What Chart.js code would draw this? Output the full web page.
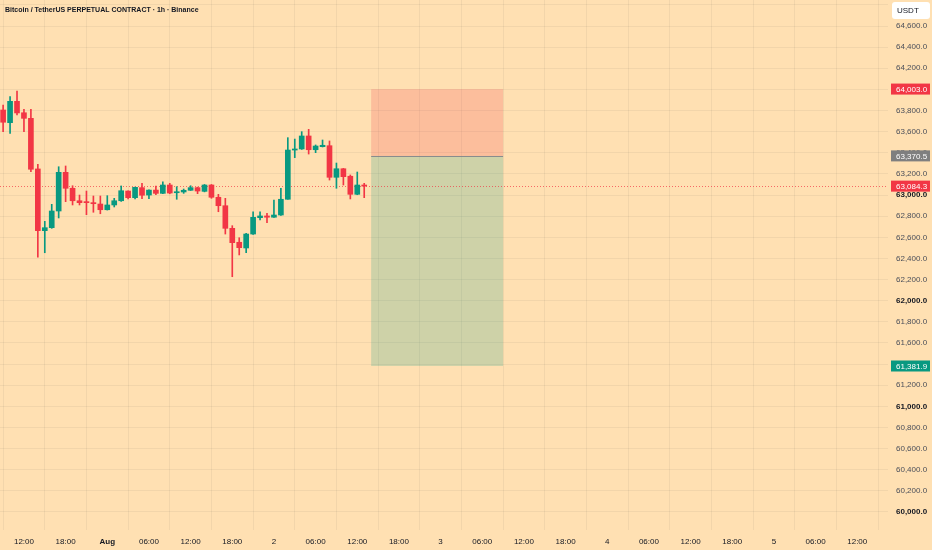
<!DOCTYPE html>
<html>
<head>
<meta charset="utf-8">
<script src="https://cdn.jsdelivr.net/npm/chart.js@4.4.1/dist/chart.umd.min.js"></script>
<style>
  html, body { margin: 0; padding: 0; background: #ffe0b2; }
  canvas { display: block; }
</style>
</head>
<body>
<canvas id="chart" width="932" height="550"></canvas>
<script>
// hours counted from Aug 1 00:00, one candle per hour
const hours = [-15, -14, -13, -12, -11, -10, -9, -8, -7, -6, -5, -4, -3, -2, -1,
  0, 1, 2, 3, 4, 5, 6, 7, 8, 9, 10, 11, 12, 13, 14, 15, 16, 17, 18, 19, 20, 21, 22, 23,
  24, 25, 26, 27, 28, 29, 30, 31, 32, 33, 34, 35, 36, 37];
const opens = [63805, 63685, 63887, 63779, 63726, 63247, 62663, 62691, 62849, 63215, 63064, 62946, 62935, 62928, 62915,
  62861, 62906, 62946, 63038, 62975, 63070, 63000, 63047, 63016, 63095, 63022, 63029, 63045, 63070, 63035, 63095, 62979, 62899, 62685, 62553, 62499, 62631, 62786, 62802,
  62790, 62811, 62960, 63426, 63436, 63559, 63429, 63458, 63467, 63168, 63249, 63178, 63007, 63095];
const highs = [63852, 63931, 63985, 63812, 63812, 63291, 62751, 62912, 63268, 63275, 63088, 63000, 63038, 62991, 62991,
  62994, 62969, 63086, 63041, 63075, 63111, 63050, 63086, 63126, 63111, 63079, 63057, 63088, 63075, 63100, 63100, 63007, 62969, 62710, 62596, 62638, 62842, 62842, 62827,
  62953, 63064, 63543, 63530, 63600, 63622, 63474, 63521, 63512, 63303, 63252, 63190, 63218, 63111];
const lows = [63600, 63584, 63758, 63600, 63221, 62411, 62454, 62685, 62783, 62937, 62906, 62906, 62814, 62837, 62823,
  62858, 62887, 62940, 62963, 62963, 62965, 62965, 63003, 63012, 63012, 62960, 63016, 63043, 63013, 63030, 62969, 62842, 62631, 62227, 62433, 62454, 62628, 62764, 62738,
  62788, 62808, 62960, 63354, 63432, 63388, 63401, 63455, 63142, 63064, 63095, 62963, 63003, 62975];
const closes = [63689, 63887, 63777, 63726, 63244, 62663, 62691, 62849, 63215, 63064, 62946, 62928, 62928, 62918, 62861,
  62906, 62946, 63041, 62975, 63073, 62998, 63047, 63016, 63095, 63019, 63029, 63045, 63070, 63038, 63095, 62979, 62899, 62685, 62549, 62502, 62631, 62789, 62802, 62790,
  62811, 62960, 63426, 63436, 63559, 63429, 63464, 63471, 63168, 63249, 63174, 63007, 63095, 63084.3];

// short position tool
const positionStart = 38;
const positionEnd = 57;
const stopPrice = 64003.0;
const entryPrice = 63370.5;
const targetPrice = 61381.9;
const lastPrice = 63084.3;

const dayLabels = ['Aug', '2', '3', '4', '5'];

const UP = '#089981';
const DOWN = '#F23645';
const FONT = 'Liberation Sans';

const candleColors = opens.map((o, i) => closes[i] >= o ? UP : DOWN);

const wickData = hours.map((h, i) => ({ x: h, y: [lows[i], highs[i]] }));
const bodyData = hours.map((h, i) => ({ x: h, y: [opens[i], closes[i]] }));

const fmtPrice = v => v.toLocaleString('en-US', { minimumFractionDigits: 1, maximumFractionDigits: 1 });

const overlay = {
  id: 'overlay',
  beforeDatasetsDraw(chart) {
    const { ctx, chartArea, scales: { x, y } } = chart;
    const x0 = x.getPixelForValue(positionStart);
    const x1 = x.getPixelForValue(positionEnd);
    const yStop = y.getPixelForValue(stopPrice);
    const yEntry = y.getPixelForValue(entryPrice);
    const yTarget = y.getPixelForValue(targetPrice);
    ctx.save();
    ctx.fillStyle = 'rgba(242, 54, 69, 0.2)';
    ctx.fillRect(x0, yStop, x1 - x0, yEntry - yStop);
    ctx.fillStyle = 'rgba(8, 153, 129, 0.2)';
    ctx.fillRect(x0, yEntry, x1 - x0, yTarget - yEntry);
    ctx.strokeStyle = 'rgba(120, 123, 134, 0.8)';
    ctx.lineWidth = 1;
    ctx.beginPath();
    ctx.moveTo(x0, Math.round(yEntry) + 0.5);
    ctx.lineTo(x1, Math.round(yEntry) + 0.5);
    ctx.stroke();

    // last price dotted line
    const yLast = Math.round(y.getPixelForValue(lastPrice)) + 0.5;
    ctx.strokeStyle = 'rgba(242, 54, 69, 0.7)';
    ctx.setLineDash([1, 2]);
    ctx.beginPath();
    ctx.moveTo(chartArea.left, yLast);
    ctx.lineTo(chartArea.right, yLast);
    ctx.stroke();
    ctx.restore();
  },
  afterDraw(chart) {
    const { ctx, scales: { y } } = chart;
    ctx.save();
    // title
    ctx.font = 'bold 7px ' + FONT;
    ctx.fillStyle = '#131722';
    ctx.textBaseline = 'middle';
    ctx.textAlign = 'left';
    ctx.fillText('Bitcoin / TetherUS PERPETUAL CONTRACT · 1h · Binance', 5, 10.5);

    // USDT box
    ctx.fillStyle = '#ffffff';
    ctx.beginPath();
    ctx.roundRect(892, 2, 38, 17, 3);
    ctx.fill();
    ctx.fillStyle = '#131722';
    ctx.font = '8px ' + FONT;
    ctx.fillText('USDT', 897, 11);

    const tag = (value, bg) => {
      const py = y.getPixelForValue(value);
      ctx.fillStyle = bg;
      ctx.fillRect(891, py - 5.5, 39, 11);
      ctx.fillStyle = '#ffffff';
      ctx.font = '8px ' + FONT;
      ctx.fillText(fmtPrice(value), 896, py + 0.5);
    };
    tag(stopPrice, DOWN);
    tag(entryPrice, '#7f7f7f');
    tag(lastPrice, DOWN);
    tag(targetPrice, UP);
    ctx.restore();
  }
};

new Chart(document.getElementById('chart'), {
  type: 'bar',
  data: {
    datasets: [
      {
        data: wickData,
        backgroundColor: candleColors,
        barThickness: 1,
        grouped: false,
        order: 2
      },
      {
        data: bodyData,
        backgroundColor: candleColors,
        barThickness: 5,
        minBarLength: 1,
        grouped: false,
        order: 1
      }
    ]
  },
  options: {
    responsive: false,
    devicePixelRatio: 1,
    animation: false,
    layout: { padding: 0 },
    plugins: {
      legend: { display: false },
      tooltip: { enabled: false },
      title: { display: false }
    },
    scales: {
      x: {
        type: 'linear',
        min: -15.45,
        max: 112.43,
        offset: false,
        afterFit: s => { s.height = 20; s.paddingLeft = 0; s.paddingRight = 0; },
        border: { display: false },
        grid: { color: 'rgba(42, 46, 57, 0.06)', drawTicks: false },
        ticks: {
          stepSize: 6,
          includeBounds: false,
          autoSkip: false,
          maxRotation: 0,
          padding: 7,
          color: '#131722',
          font: c => ({ family: FONT, size: 8, weight: c.tick && c.tick.value === 0 ? 'bold' : 'normal' }),
          callback: v => {
            if (v % 24 === 0) return dayLabels[v / 24];
            const hh = ((v % 24) + 24) % 24;
            return String(hh).padStart(2, '0') + ':00';
          }
        }
      },
      y: {
        position: 'right',
        min: 59829.6,
        max: 64846.1,
        afterFit: s => { s.width = 44; s.paddingTop = 0; s.paddingBottom = 0; },
        // keep price ticks on round 200 steps
        afterBuildTicks: s => {
          s.ticks = [];
          for (let v = Math.ceil(s.min / 200) * 200; v <= s.max; v += 200) s.ticks.push({ value: v });
        },
        border: { display: false },
        grid: { color: 'rgba(42, 46, 57, 0.06)', drawTicks: false },
        ticks: {
          stepSize: 200,
          includeBounds: false,
          autoSkip: false,
          padding: 8,
          color: c => c.tick && c.tick.value % 1000 === 0 ? '#131722' : '#4a4e59',
          font: c => ({ family: FONT, size: 8, weight: c.tick && c.tick.value % 1000 === 0 ? 'bold' : 'normal' }),
          callback: v => fmtPrice(v)
        }
      }
    }
  },
  plugins: [overlay]
});
</script>
</body>
</html>
